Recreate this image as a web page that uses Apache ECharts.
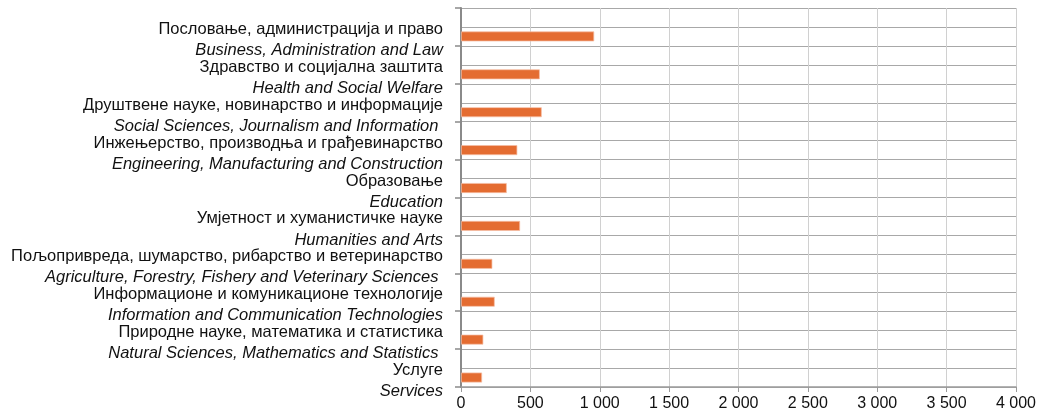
<!DOCTYPE html>
<html>
<head>
<meta charset="utf-8">
<script src="https://cdn.jsdelivr.net/npm/echarts@6/dist/echarts.min.js"></script>
<style>
html,body{margin:0;padding:0;background:#fff;}
#chart{width:1038px;height:419px;}
</style>
</head>
<body>
<div id="chart"></div>
<script>
const cyrLabels = ['Пословање, администрација и право', 'Здравство и социјална заштита', 'Друштвене науке, новинарство и информације', 'Инжењерство, производња и грађевинарство', 'Образовање', 'Умјетност и хуманистичке науке', 'Пољопривреда, шумарство, рибарство и ветеринарство', 'Информационе и комуникационе технологије', 'Природне науке, математика и статистика', 'Услуге'];
const engLabels = ['Business, Administration and Law', 'Health and Social Welfare', 'Social Sciences, Journalism and Information ', 'Engineering, Manufacturing and Construction', 'Education', 'Humanities and Arts', 'Agriculture, Forestry, Fishery and Veterinary Sciences ', 'Information and Communication Technologies', 'Natural Sciences, Mathematics and Statistics ', 'Services'];
const values = [960, 568, 582, 406, 330, 426, 226, 243, 161, 152];
const xTicks = [0, 500, 1000, 1500, 2000, 2500, 3000, 3500, 4000];

const FONT = "'Liberation Sans Narrow', 'Arial Narrow', 'Liberation Sans', Arial, sans-serif";

// each category occupies two slots: an empty upper half and the bar half
const slots = [];
const slotData = [];
for (let i = 0; i < values.length; i++) {
  slots.push('gap' + i); slotData.push(null);
  slots.push('cat' + i); slotData.push(values[i]);
}

const chart = echarts.init(document.getElementById('chart'), null, {renderer: 'canvas'});
chart.setOption({
  animation: false,
  backgroundColor: '#ffffff',
  grid: {left: 461, right: 22, top: 8, bottom: 32, containLabel: false, outerBoundsMode: 'none'},
  xAxis: {
    type: 'value',
    min: xTicks[0], max: xTicks[xTicks.length - 1], interval: xTicks[1] - xTicks[0],
    axisLine: {show: true, lineStyle: {color: '#9a9a9a', width: 1.5}},
    axisTick: {show: true, length: 5, lineStyle: {color: '#9a9a9a', width: 1}},
    splitLine: {show: true, lineStyle: {color: '#d0d0d0', width: 1}},
    axisLabel: {
      margin: 9, color: '#111', fontFamily: FONT, fontSize: 16,
      formatter: v => String(v).replace(/\B(?=(\d{3})+(?!\d))/g, ' ')
    }
  },
  yAxis: {
    type: 'category',
    inverse: true,
    data: slots,
    axisLine: {show: true, lineStyle: {color: '#8a8a8a', width: 2}},
    axisTick: {show: true, length: 6, interval: (i) => i % 2 === 0, lineStyle: {color: '#8a8a8a', width: 1.5}},
    splitLine: {show: true, interval: 0, lineStyle: {color: '#a8a8a8', width: 1}},
    axisLabel: {
      interval: 0, margin: 18, align: 'right', padding: [7, 0, 0, 0],
      formatter: (v, idx) => {
        if (idx % 2 === 0) return '';
        const k = (idx - 1) / 2;
        return '{c|' + cyrLabels[k] + '}\n{e|' + engLabels[k] + '}';
      },
      rich: {
        c: {fontFamily: FONT, fontSize: 16.5, color: '#111', lineHeight: 21, align: 'right'},
        e: {fontFamily: FONT, fontSize: 16.5, fontStyle: 'italic', color: '#111', lineHeight: 21, align: 'right'}
      }
    }
  },
  series: [{
    type: 'bar',
    data: slotData,
    barWidth: 10,
    itemStyle: {color: '#E46C31', borderColor: 'rgba(245,190,165,0.9)', borderWidth: 0.8}
  }]
});
</script>
</body>
</html>
